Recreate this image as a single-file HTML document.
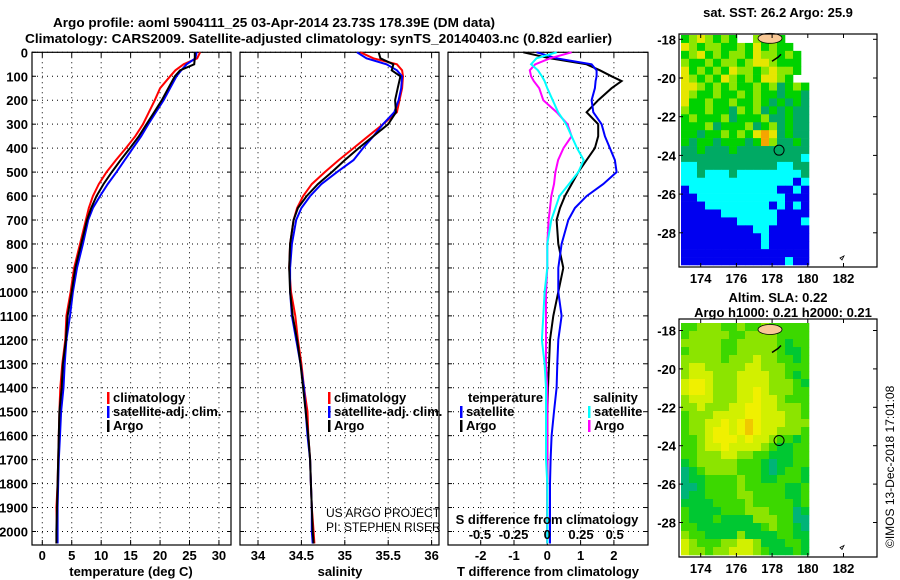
<!DOCTYPE html>
<html><head><meta charset="utf-8"><style>
html,body{margin:0;padding:0;background:#fff;}
svg{display:block;font-family:"Liberation Sans",sans-serif;}
.b{font-weight:bold;font-size:13px;}
</style></head><body>
<svg id="fig" width="900" height="580" viewBox="0 0 900 580" xmlns="http://www.w3.org/2000/svg">
<text x="53" y="27" class="b" font-size="14" textLength="442" lengthAdjust="spacingAndGlyphs">Argo profile: aoml 5904111_25 03-Apr-2014 23.73S 178.39E (DM data)</text>
<text x="25" y="43" class="b" font-size="14" textLength="587" lengthAdjust="spacingAndGlyphs">Climatology: CARS2009. Satellite-adjusted climatology: synTS_20140403.nc (0.82d earlier)</text>
<g id="g"></g>
</svg>
<script>
// ---------- profile data ----------
const depths = [0,25,50,75,100,150,200,250,300,350,400,450,500,550,600,650,700,800,900,1000,1100,1200,1300,1400,1500,1600,1700,1800,1900,2000,2050];
const tempClim = [26.8,26.3,24.0,22.6,21.7,20.0,19.1,18.1,17.1,15.8,14.2,12.5,10.9,9.6,8.6,7.9,7.4,6.4,5.4,4.8,4.1,3.9,3.4,3.06,2.9,2.8,2.7,2.6,2.4,2.5,2.4];
const tempSat  = [26.2,26.0,24.5,23.6,22.8,21.7,20.6,19.3,18.0,16.8,15.4,14.0,12.6,11.1,9.8,8.6,7.8,6.9,5.9,5.2,4.7,4.1,3.8,3.6,3.2,3.0,2.8,2.7,2.6,2.6,2.6];
const tempArgo = [25.9,25.9,25.8,23.4,22.5,21.4,20.3,19.0,17.7,16.4,14.9,13.3,11.8,10.4,9.2,8.3,7.6,6.6,5.6,5.0,4.3,4.0,3.5,3.3,2.9,2.8,2.7,2.6,2.5,2.4,2.4];
const salClim = [35.18,35.33,35.6,35.66,35.67,35.66,35.63,35.6,35.44,35.27,35.1,34.93,34.77,34.62,34.52,34.45,34.41,34.37,34.36,34.38,34.43,34.46,34.5,34.53,34.57,34.58,34.6,34.61,34.62,34.64,34.65];
const salSat  = [35.14,35.25,35.48,35.6,35.66,35.65,35.62,35.57,35.44,35.33,35.21,35.1,34.91,34.73,34.6,34.5,34.44,34.39,34.37,34.37,34.39,34.44,34.49,34.53,34.55,34.57,34.6,34.61,34.62,34.62,34.63];
const salArgo = [35.39,35.41,35.56,35.54,35.64,35.61,35.58,35.59,35.5,35.33,35.16,35.0,34.85,34.69,34.56,34.46,34.41,34.37,34.36,34.37,34.4,34.45,34.49,34.52,34.55,34.58,34.6,34.61,34.62,34.63,34.64];
const diffDepths = [0,25,50,75,100,120,150,200,250,300,350,400,450,500,550,600,650,700,800,900,1000,1100,1200,1300,1400,1500,1600,1700,1800,1900,2000,2050];
const dTSat  = [-0.32,0.28,1.33,1.48,1.48,1.45,1.43,1.33,1.38,1.63,1.73,1.88,2.03,2.08,1.68,1.18,0.83,0.63,0.43,0.33,0.33,0.43,0.33,0.3,0.28,0.2,0.13,0.1,0.08,0.08,0.08,0.08];
const dTArgo = [-0.72,0.08,1.18,1.58,1.93,2.23,1.93,1.53,1.18,1.53,1.53,1.43,1.18,0.93,0.73,0.53,0.38,0.28,0.33,0.48,0.33,0.18,0.08,0.05,0.02,0,0,0,0,0,0,0];
const dSSat  = [0.07,-0.08,-0.12,-0.07,-0.04,-0.02,0,0.04,0.08,0.14,0.18,0.22,0.27,0.23,0.16,0.09,0.06,0.03,0,0,-0.02,-0.03,-0.04,-0.02,-0.01,-0.01,-0.01,-0.01,0,0,0,0];
const dSArgo = [0.18,0.02,-0.09,-0.13,-0.12,-0.1,-0.06,-0.03,0.07,0.15,0.18,0.12,0.08,0.06,0.05,0.03,0.02,0.01,0,0,-0.01,-0.01,-0.01,-0.01,0,0,0,0,0,0,0,0];
const depthTicks = [0,100,200,300,400,500,600,700,800,900,1000,1100,1200,1300,1400,1500,1600,1700,1800,1900,2000];
const tempTicks = [0,5,10,15,20,25,30];
const salTicks = [34,34.5,35,35.5,36];
const salTickLabels = ["34","34.5","35","35.5","36"];
const dTTicks = [-2,-1,0,1,2];
const dSTicks = [-0.5,-0.25,0,0.25,0.5];
const dSTickLabels = ["-0.5","-0.25","0","0.25","0.5"];
// ---------- map data (colour classes per grid cell, row = north→south) ----------
const sstRows = [
"glylglgwwlglgwww","ylgllgglgyglggww","glyglgllgyllglgw","lgglgllglyylgggw","yglglgyllglyllgw",
"ylglgylglgyylgww","yylglglgglgltglg","ylgglgglglggtggt","ygglgglgglgtgtgt","lgglggtlgltgtgtt",
"glgggltggglttgtt","gggltgggltgltgtt","ggtgglglgyoytgtt","gtggtgggtgolttgt","ttgtttgttttttttt",
"tttttttttttttttc","ccttttttttttcctt","cctccctcccccccct","ccccccccccccccbc","bcccccccccccbbcb",
"bbcccccccccccbbb","bbbccccccccbcbcb","bbbbbcccccccbbbb","bbbbbbbcccccbbbc","bbbbbbbbbccbbbbb",
"bbbbbbbbbbcbbbbb","bbbbbbbbbbcbbbbb","bbbbbbbbbbbbbbbb","bbbbbbbbbbbbbcbb"];
const slaRows = [
"gglllgglgglggggg","glllllggllllgggg","lllllgglllllgGgg","gllllgglllllgGGg","lllllglllyllggGg",
"lyylllllyylllggg","lyyylllyyyyllgGg","yYYylllyyyylllgG","yYYylllyyYylllgg","lyyylllyyYyylggg",
"llylllyyYYyylllg","glllyyyyYYyyyllg","gllyyYyYoYyyylll","gllyYYyYoYyylllg","gglyYYYyYyylggGg",
"gglyyYyyyylgGGgg","gglllyyllggGGGgg","GglllllgggGtGGgg","tGgllllgggGtGggG","tGGgggglggGGgggG",
"ttGgggglgggggGGg","tGGggggllggggGGg","GGGGgggglgggggGg","gGGGGggglllgggtG","gGGGgGGGGlllggtt",
"ggGGGGGGGGglggGt","lggGGGGlGGGGggGG","ylgggllyylGGGggG","yllgllyyylgGGGgG"];
const mapLons = [174,176,178,180,182];
const mapLats = [-18,-20,-22,-24,-26,-28];
const argoLon = 178.39, argoLat = -23.73;

const NS="http://www.w3.org/2000/svg";
const G=document.getElementById('g');
function el(tag,attrs,parent){const e=document.createElementNS(NS,tag);for(const k in attrs)e.setAttribute(k,attrs[k]);(parent||G).appendChild(e);return e;}
function txt(x,y,s,anchor,cls,parent){const t=el('text',{x:x,y:y,'text-anchor':anchor||'start','class':cls||'b'},parent);t.textContent=s;return t;}

const yTop=52.3, yBot=545, dScale=0.2396;
const yD=d=>yTop+d*dScale;
const xT=v=>42.3+v*5.888;
const xS=v=>258+(v-34)*86.8;
const xdT=v=>547.3+v*33.3;
const xdS=v=>547.3+v*134.8;

function panel(name,x0,x1,vTicks,xf,labels,showDepthLabels){
  const g=el('g',{});
  
  
  depthTicks.forEach(d=>{
    const l=el('line',{x1:x0,x2:x1,y1:yD(d),y2:yD(d),stroke:'#000','stroke-width':1,'stroke-dasharray':'1,4'},g);
    
    
    el('line',{x1:x0,x2:x0+4,y1:yD(d),y2:yD(d),stroke:'#000'},g);
    el('line',{x1:x1-4,x2:x1,y1:yD(d),y2:yD(d),stroke:'#000'},g);
    if(showDepthLabels){const t=txt(28,yD(d)+5,String(d),'end','b',g);
      
      }
  });
  vTicks.forEach((v,i)=>{
    const x=xf(v);
    const l=el('line',{x1:x,x2:x,y1:yTop,y2:yBot,stroke:'#000','stroke-width':1,'stroke-dasharray':'1,4'},g);
    
    
    el('line',{x1:x,x2:x,y1:yTop,y2:yTop+5,stroke:'#000'},g);
    el('line',{x1:x,x2:x,y1:yBot-5,y2:yBot,stroke:'#000'},g);
    const t=txt(x,560,labels[i],'middle','b',g);
    
    
  });
  const r=el('rect',{x:x0,y:yTop,width:x1-x0,height:yBot-yTop,fill:'none',stroke:'#000','stroke-width':1.2},g);
  
  
  return g;
}
function series(g,name,ds,vals,xf,color){
  const pts=ds.map((d,i)=>xf(vals[i]).toFixed(1)+','+yD(d).toFixed(1)).join(' ');
  const p=el('polyline',{points:pts,fill:'none',stroke:color,'stroke-width':2,'stroke-linejoin':'miter'},g);
  
  
}
function legendEntry(g,name,x,y,color,label){
  const m=el('rect',{x:x,y:y-10,width:2.5,height:12,fill:color},g);
  
  
  const t=txt(x+6,y,label,'start','b',g);
  
  
}

const p1=panel('temperature-panel',32,231,tempTicks,xT,tempTicks.map(String),true);
series(p1,'temp-climatology-line',depths,tempClim,xT,'#ff0000');
series(p1,'temp-satellite-line',depths,tempSat,xT,'#0000ff');
series(p1,'temp-argo-line',depths,tempArgo,xT,'#000000');
legendEntry(p1,'legend-climatology',107,402,'#ff0000','climatology');
legendEntry(p1,'legend-satellite-adj',107,416,'#0000ff','satellite-adj. clim.');
legendEntry(p1,'legend-argo',107,430,'#000000','Argo');
let t=txt(131,576,'temperature (deg C)','middle','b');



const p2=panel('salinity-panel',240,439,salTicks,xS,salTickLabels,false);
series(p2,'sal-climatology-line',depths,salClim,xS,'#ff0000');
series(p2,'sal-satellite-line',depths,salSat,xS,'#0000ff');
series(p2,'sal-argo-line',depths,salArgo,xS,'#000000');
legendEntry(p2,'legend-sal-climatology',328,402,'#ff0000','climatology');
legendEntry(p2,'legend-sal-satellite-adj',328,416,'#0000ff','satellite-adj. clim.');
legendEntry(p2,'legend-sal-argo',328,430,'#000000','Argo');
t=txt(340,576,'salinity','middle','b');


t=el('text',{x:326,y:517,'font-size':12,'fill':'#000'});t.textContent='US ARGO PROJECT';


t=el('text',{x:326,y:531,'font-size':12,'fill':'#000'});t.textContent='PI: STEPHEN RISER';



const p3=panel('difference-panel',448,648,dTTicks,xdT,dTTicks.map(String),false);
series(p3,'dT-argo-line',diffDepths,dTArgo,xdT,'#000000');
series(p3,'dT-satellite-line',diffDepths,dTSat,xdT,'#0000ff');
series(p3,'dS-argo-line',diffDepths,dSArgo,xdS,'#ff00ff');
series(p3,'dS-satellite-line',diffDepths,dSSat,xdS,'#00ffff');
t=txt(468,402,'temperature','start','b',p3);


legendEntry(p3,'legend-dT-satellite',460,416,'#0000ff','satellite');
legendEntry(p3,'legend-dT-argo',460,430,'#000000','Argo');
t=txt(593,402,'salinity','start','b',p3);


legendEntry(p3,'legend-dS-satellite',588,416,'#00ffff','satellite');
legendEntry(p3,'legend-dS-argo',588,430,'#ff00ff','Argo');
t=txt(547,524,'S difference from climatology','middle','b',p3);


dSTicks.forEach((v,i)=>{const s=txt(xdS(v),539,dSTickLabels[i],'middle','b',p3);
  
  });
t=txt(548,576,'T difference from climatology','middle','b');



const sstCols={g:'#00d200',l:'#8ce600',y:'#e6e600',o:'#f5a500',t:'#00aa64',c:'#00ffff',b:'#0000f0',w:'#ffffff'};
const slaCols={G:'#00c832',g:'#3cd800',l:'#8ce400',y:'#d2f000',Y:'#f0f000',o:'#f0c800',t:'#00b478'};
function drawMap(name,fy,fh,latY0,latStep,rows,cols,dataTop,dataH){
  const g=el('g',{});
  
  
  const fx=679,fw=198;
  const lonX=lon=>700.7+(lon-174)*17.85;
  const latY=lat=>latY0+(-18-lat)*latStep/2;
  const cw=128/16, ch=dataH/rows.length;
  rows.forEach((row,r)=>{
    for(let c=0;c<row.length;c++){
      const col=cols[row[c]]; if(!col||col==='#ffffff') continue;
      const cell=el('rect',{x:681+c*cw,y:dataTop+r*ch,width:cw+0.3,height:ch+0.3,fill:col},g);
      
      
    }
  });
  const land=el('ellipse',{cx:770,cy:latY(-18)-1,rx:12,ry:5,fill:'#f8c896',stroke:'#000','stroke-width':0.8},g);
  
  
  el('path',{d:`M772 ${latY(-18)+22} l6 -4 l3 -3`,stroke:'#000','stroke-width':1.5,fill:'none'},g);
  el('path',{d:`M840 ${latY(-29.3)} l4 -2 l-2 4z`,stroke:'#000','stroke-width':0.8,fill:'none'},g);
  const circ=el('circle',{cx:lonX(argoLon),cy:latY(argoLat),r:5,fill:'none',stroke:'#000','stroke-width':1},g);
  
  
  el('rect',{x:fx,y:fy,width:fw,height:fh,fill:'none',stroke:'#000','stroke-width':1.2},g);
  mapLats.forEach(lat=>{const y=latY(lat);
    el('line',{x1:fx,x2:fx+4,y1:y,y2:y,stroke:'#000'},g);
    el('line',{x1:fx+fw-4,x2:fx+fw,y1:y,y2:y,stroke:'#000'},g);
    const l=txt(676,y+5,String(lat),'end','b',g);
    
    });
  mapLons.forEach(lon=>{const x=lonX(lon);
    el('line',{x1:x,x2:x,y1:fy,y2:fy+4,stroke:'#000'},g);
    el('line',{x1:x,x2:x,y1:fy+fh-4,y2:fy+fh,stroke:'#000'},g);
    const l=txt(x,fy+fh+16,String(lon),'middle','b',g);
    
    });
}
drawMap('sst-map',34,233,39.3,38.7,sstRows,sstCols,35,230);
drawMap('sla-map',319,238,330.5,38.4,slaRows,slaCols,323,232);
t=txt(778,17,'sat. SST: 26.2 Argo: 25.9','middle','b');


t=txt(778,302,'Altim. SLA: 0.22','middle','b');


t=txt(783,317,'Argo h1000: 0.21 h2000: 0.21','middle','b');


t=el('text',{x:0,y:0,'font-size':12,transform:'translate(894,548) rotate(-90)'});
t.textContent='©IMOS 13-Dec-2018 17:01:08';


</script>
</body></html>
